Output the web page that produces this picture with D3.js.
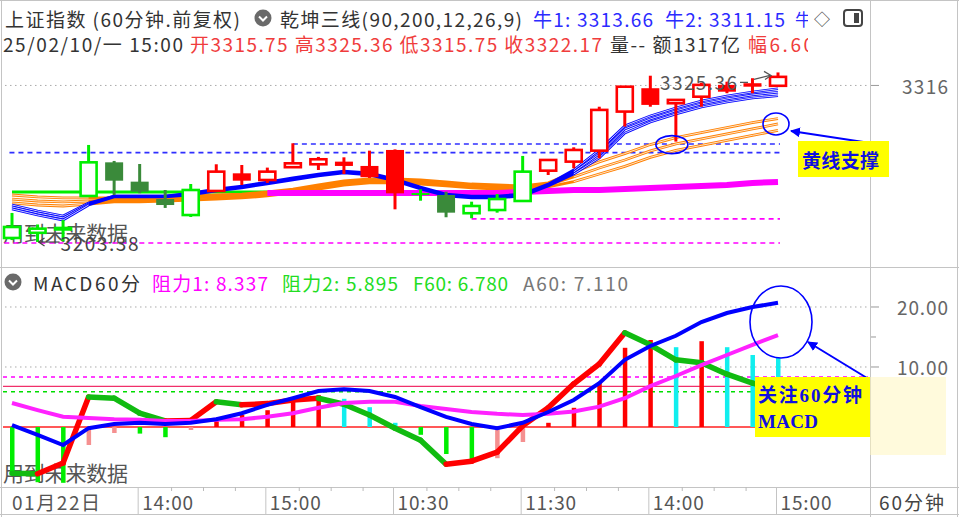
<!DOCTYPE html>
<html>
<head>
<meta charset="utf-8">
<script src="https://cdn.jsdelivr.net/npm/d3@7/dist/d3.min.js"></script>
<style>
  body { margin: 0; background: #fff; }
  svg { display: block; font-family: "Noto Sans CJK SC", "Noto Sans", sans-serif; }
</style>
</head>
<body>
<svg id="chart" width="959" height="517"></svg>
<script>
// 60 minute bars, last one is 25/02/10 15:00
const open  = [3206.3,3210.0,3212.8,3236.5,3260.7,3246.8,3234.3,3222.8,3240.1,3252.8,3248.0,3257.2,3259.3,3261.2,3258.1,3269.6,3238.6,3237.2,3224.1,3226.4,3232.9,3254.7,3261.2,3269.1,3297.2,3314.0,3303.2,3307.9,3316.4,3317.6,3315.75];
const high  = [3224.3,3216.0,3219.2,3273.2,3261.7,3259.5,3240.8,3245.1,3259.3,3258.8,3256.9,3274.4,3264.6,3264.3,3269.1,3270.0,3241.3,3239.6,3232.4,3237.9,3265.3,3263.0,3271.5,3300.7,3315.5,3323.0,3305.6,3318.0,3318.7,3321.2,3325.36];
const low   = [3204.8,3203.38,3204.0,3235.8,3237.2,3238.5,3227.9,3221.4,3240.1,3244.4,3245.9,3257.2,3255.2,3252.3,3249.5,3226.9,3233.1,3221.2,3220.5,3224.5,3232.9,3251.6,3256.4,3263.6,3286.4,3300.7,3275.6,3300.7,3310.4,3310.4,3315.75];
const close = [3214.2,3213.0,3213.5,3260.7,3247.5,3239.6,3230.0,3240.8,3254.0,3247.5,3254.0,3260.0,3262.9,3258.1,3250.0,3238.4,3238.2,3224.5,3229.3,3234.3,3254.0,3262.4,3269.6,3298.4,3315.1,3302.0,3305.6,3316.4,3311.5,3315.1,3322.17];
// trend colour of each bar: g green, d dark green, r red
const trend = "gggg" + "ddd" + "g" + "rrrrrrrr" + "g" + "d" + "ggg" + "rrrrrrrrrr";

// 乾坤三线: three blue (牛) lines, three orange lines, magenta and green base lines
const bull1 = [3230.0,3225.7,3222.1,3231.5,3236.5,3236.5,3236.5,3238.7,3241.5,3243.7,3246.6,3249.5,3252.3,3254.5,3253.1,3248.7,3243.0,3237.9,3236.5,3236.5,3237.9,3245.1,3255.2,3269.6,3286.9,3294.1,3299.8,3304.8,3308.4,3311.3,3313.66];
const bull2 = [3228.6,3224.3,3220.7,3230.7,3236.5,3236.5,3236.5,3237.9,3240.8,3243.0,3245.9,3248.7,3251.6,3253.8,3252.3,3248.0,3242.3,3237.2,3235.8,3235.8,3237.2,3244.4,3253.8,3266.7,3284.7,3291.9,3297.7,3302.7,3306.3,3309.2,3311.15];
const bull3 = [3227.2,3222.8,3219.2,3230.0,3235.8,3235.8,3235.8,3237.2,3240.1,3242.3,3245.1,3248.0,3250.9,3253.1,3251.6,3247.3,3241.5,3236.5,3235.1,3235.1,3236.5,3243.7,3252.3,3263.8,3281.8,3289.7,3295.5,3300.5,3304.1,3307.0,3308.6];
const gold1 = [3237.2,3235.8,3235.1,3235.1,3235.1,3235.1,3235.8,3236.5,3237.2,3237.9,3239.4,3241.5,3244.4,3247.3,3248.7,3248.7,3248.0,3246.6,3245.1,3244.4,3243.7,3245.9,3253.6,3261.0,3267.0,3273.5,3278.5,3282.1,3285.7,3289.3,3292.2];
const gold2 = [3234.3,3232.9,3232.2,3232.9,3233.6,3233.6,3234.3,3235.1,3235.8,3236.5,3237.9,3240.1,3243.0,3245.9,3247.3,3247.3,3246.6,3245.1,3243.7,3243.0,3242.3,3244.4,3250.2,3256.6,3262.4,3268.9,3273.9,3277.5,3281.1,3284.7,3288.3];
const gold3 = [3231.5,3230.0,3229.3,3230.7,3232.2,3232.2,3232.9,3233.6,3234.3,3235.1,3236.5,3238.7,3241.5,3244.4,3245.9,3245.9,3245.1,3243.7,3242.3,3241.5,3240.8,3243.0,3246.8,3252.3,3257.8,3264.3,3269.3,3272.9,3276.5,3280.1,3283.7];
const pinkBase = [null,null,null,null,null,null,null,null,null,null,3238.7,3238.7,3238.7,3238.7,3238.7,3238.7,3238.7,3238.7,3238.7,3238.7,3239.4,3240.1,3240.8,3240.8,3241.5,3242.3,3243.0,3243.7,3244.4,3245.9,3246.6];
const greenBase = [3239.4,3239.4,3239.4,3239.4,3239.4,3239.4,3239.4,3239.4,3239.4,3239.4,3239.4];
const blueLevels = [3273.9, 3267.7];
const pinkLevels = [3220.0, 3202.7];

// MACD60分
const macdBar = [-7.7,-9.2,-9.3,-3.0,-1.0,-1.1,-1.7,-0.5,1.2,2.0,2.8,4.2,5.3,4.7,3.3,0.7,-1.3,-4.5,-5.5,-5.2,-2.5,0.7,3.2,7.5,13.2,14.5,13.3,14.3,13.3,12.0,11.5];
const dif = [0.3,-1.3,-3.0,-0.2,0.5,0.7,0.5,0.7,1.3,2.3,3.7,4.8,6.0,6.3,6.0,5.0,3.3,1.7,0.5,-0.2,0.7,2.5,4.5,7.3,11.2,13.5,15.2,17.5,19.0,20.0,20.7];
const dea = [4.0,2.8,1.7,1.5,1.3,1.2,1.0,1.0,1.2,1.3,1.7,2.3,3.2,4.0,4.2,4.2,3.5,3.0,2.5,2.2,2.0,2.2,2.6,3.4,4.8,6.8,8.5,10.3,12.0,13.7,15.3];
const fast = [-7.7,-7.8,-6.0,5.0,4.8,2.3,1.0,1.1,4.2,3.7,3.9,4.5,4.8,3.8,2.0,-0.2,-2.2,-6.2,-5.7,-4.2,0.2,3.2,7.2,10.5,15.7,13.7,11.2,10.7,8.8,7.3,6.2];
const resist1 = 8.337, resist2 = 5.895, f60 = 6.780, a60 = 7.110;

const axisIdx = [0, 5, 10, 15, 20, 25, 30];
const axisLabels = ["01月22日", "14:00", "15:00", "10:30", "11:30", "14:00", "15:00"];
const priceTicks = [3316];
const macdTicks = [20, 10];

const svg = d3.select("#chart");
const x = d3.scaleLinear().domain([0, 30]).range([12, 778]);
const yP = d3.scaleLinear().domain([3184.7, 3334.3]).range([268, 60]);
const yM = d3.scaleLinear().domain([-9.833, 21.833]).range([486, 296]);
const RED = "#ff0000", GREEN = "#00ee00", DKGREEN = "#3a8a3a";
const candleCol = { g: GREEN, d: DKGREEN, r: RED };

function label(g, px, py, s, color, len, size) {
  const t = g.append("text").attr("x", px).attr("y", py)
    .attr("dominant-baseline", "central")
    .attr("font-size", size || 19).attr("fill", color).text(s);
  if (len) t.attr("textLength", len).attr("lengthAdjust", "spacing");
  return t;
}

// frame lines
const frame = svg.append("g").attr("stroke", "#c4c4c4").attr("stroke-width", 1);
frame.append("line").attr("x1", 0).attr("x2", 959).attr("y1", 0.5).attr("y2", 0.5);
frame.append("line").attr("x1", 1.5).attr("x2", 1.5).attr("y1", 0).attr("y2", 517);
frame.append("line").attr("x1", 870.5).attr("x2", 870.5).attr("y1", 0).attr("y2", 517);
frame.append("line").attr("x1", 957.5).attr("x2", 957.5).attr("y1", 0).attr("y2", 517);
frame.append("line").attr("x1", 0).attr("x2", 959).attr("y1", 267.5).attr("y2", 267.5);
frame.append("line").attr("x1", 0).attr("x2", 959).attr("y1", 487.5).attr("y2", 487.5);
frame.append("line").attr("x1", 0).attr("x2", 959).attr("y1", 514.5).attr("y2", 514.5);

// header
svg.append("clipPath").attr("id", "hdclip").append("rect")
  .attr("x", 0).attr("y", 0).attr("width", 808).attr("height", 60);
const hd = svg.append("g").attr("clip-path", "url(#hdclip)");
label(hd, 5, 18, "上证指数 (60分钟.前复权)", "#333", 235);
label(hd, 280, 18, "乾坤三线(90,200,12,26,9)", "#333", 242);
label(hd, 533, 18, "牛1: " + bull1[30].toFixed(2), "#2b2bff", 120);
label(hd, 665, 18, "牛2: " + bull2[30].toFixed(2), "#2b2bff", 120);
label(hd, 795, 18, "牛", "#2b2bff", null, 17);
label(hd, 3, 43, "25/02/10/一 15:00", "#333", 180);
label(hd, 190, 43, `开${open[30].toFixed(2)} 高${high[30].toFixed(2)} 低${low[30].toFixed(2)} 收${close[30].toFixed(2)}`, "#f03c3c", 412);
label(hd, 610, 43, "量-- 额1317亿", "#333", 130);
label(hd, 748, 43, "幅6.60", "#f03c3c", 66);

function chevronIcon(cx, cy) {
  svg.append("circle").attr("cx", cx).attr("cy", cy).attr("r", 8.5).attr("fill", "#6a6a6a");
  svg.append("path").attr("d", `M${cx - 4},${cy - 1.5}L${cx},${cy + 2.5}L${cx + 4},${cy - 1.5}`)
    .attr("fill", "none").attr("stroke", "#fff").attr("stroke-width", 2);
}
chevronIcon(263, 18);
label(svg, 814, 18, "◇", "#444", null, 16);
svg.append("rect").attr("x", 844).attr("y", 10).attr("width", 18).attr("height", 16).attr("rx", 3)
  .attr("fill", "none").attr("stroke", "#444").attr("stroke-width", 2);
svg.append("rect").attr("x", 854).attr("y", 13).attr("width", 5).attr("height", 10).attr("fill", "#444");

// ---------- main price panel ----------
const main = svg.append("g");
priceTicks.forEach(v => {
  main.append("line").attr("x1", 5).attr("x2", 868).attr("y1", yP(v)).attr("y2", yP(v))
    .attr("stroke", "#aaa").attr("stroke-dasharray", "1.5,3.5");
  main.append("line").attr("x1", 871).attr("x2", 879).attr("y1", yP(v)).attr("y2", yP(v)).attr("stroke", "#999");
  label(main, 948, yP(v), String(v), "#666", 46).attr("text-anchor", "end");
});
label(main, 3, 232, "用到未来数据", "#555", 125, 21);

const lvl = (v, i0, col) => main.append("line")
  .attr("x1", x(i0)).attr("x2", x(30) + 2).attr("y1", yP(v)).attr("y2", yP(v))
  .attr("stroke", col).attr("stroke-width", 1.6).attr("stroke-dasharray", "5,4");
lvl(blueLevels[0], 11, "#2f2fff");
lvl(blueLevels[1], -0.1, "#2f2fff");
lvl(pinkLevels[0], 18, "#ff00ff");
lvl(pinkLevels[1], -0.3, "#ff00ff");

const lineP = d3.line().defined(d => d != null).x((d, i) => x(i)).y(d => yP(d));
const fan = d3.line().defined((d, i) => i <= 3 || i >= 22).x((d, i) => x(i)).y(d => yP(d));

main.append("path").attr("d", lineP(greenBase)).attr("fill", "none").attr("stroke", GREEN).attr("stroke-width", 3);
[gold1, gold2, gold3].forEach(s => {
  main.append("path").attr("d", lineP(s)).attr("fill", "none").attr("stroke", "#ff8000").attr("stroke-width", 2.8);
  main.append("path").attr("d", fan(s)).attr("fill", "none").attr("stroke", "#fff").attr("stroke-width", 0.8);
});
main.append("path").attr("d", lineP(pinkBase)).attr("fill", "none").attr("stroke", "#ff00ff").attr("stroke-width", 6);
[bull1, bull2, bull3].forEach(s => {
  main.append("path").attr("d", lineP(s)).attr("fill", "none").attr("stroke", "#0000ff").attr("stroke-width", 2.6);
  main.append("path").attr("d", fan(s)).attr("fill", "none").attr("stroke", "#fff").attr("stroke-width", 0.8);
});

// candles
const cg = main.append("g");
d3.range(open.length).forEach(i => {
  const cx = x(i), col = candleCol[trend[i]];
  const up = close[i] > open[i];
  const top = yP(Math.max(open[i], close[i])), bot = yP(Math.min(open[i], close[i]));
  cg.append("line").attr("x1", cx).attr("x2", cx).attr("y1", yP(high[i])).attr("y2", yP(low[i]))
    .attr("stroke", col).attr("stroke-width", 3);
  if (up) {
    cg.append("rect").attr("x", cx - 8).attr("y", top).attr("width", 16).attr("height", Math.max(bot - top, 1.5))
      .attr("fill", "#fff").attr("stroke", col).attr("stroke-width", 2.6);
  } else {
    cg.append("rect").attr("x", cx - 9).attr("y", top).attr("width", 18).attr("height", Math.max(bot - top, 2))
      .attr("fill", col);
  }
});

// high / low marks
const iLow = d3.minIndex(low), iHigh = d3.maxIndex(high);
const lowY = yP(low[iLow]);
main.append("line").attr("x1", x(iLow) + 1).attr("x2", x(iLow) + 22).attr("y1", lowY).attr("y2", lowY)
  .attr("stroke", "#444").attr("stroke-width", 1.2);
main.append("path").attr("d", `M${x(iLow) + 1},${lowY}l6,-4M${x(iLow) + 1},${lowY}l6,4`)
  .attr("stroke", "#444").attr("stroke-width", 1.2).attr("fill", "none");
label(main, x(iLow) + 23, lowY, low[iLow].toFixed(2), "#444", 78);
const hiY = yP(high[iHigh]);
label(main, x(iHigh) - 118, hiY + 9, high[iHigh].toFixed(2), "#555", 77);
main.append("path").attr("d", `M${x(iHigh) - 38},${hiY + 10}L${x(iHigh) - 30},${hiY + 10}M${x(iHigh) - 24},${hiY + 7}L${x(iHigh) - 8},${hiY + 3}`)
  .attr("stroke", "#555").attr("stroke-width", 1.3).attr("fill", "none");
main.append("path").attr("d", `M${x(iHigh) - 14},${hiY - 1}L${x(iHigh) - 7},${hiY + 3}L${x(iHigh) - 13},${hiY + 7}`)
  .attr("stroke", "#555").attr("stroke-width", 1.3).attr("fill", "none");

// ---------- MACD panel ----------
const mp = svg.append("g");
chevronIcon(13, 282);
label(mp, 33, 282, "MACD60分", "#333", 107);
label(mp, 152, 282, "阻力1: " + resist1.toFixed(3), "#ff00ff", 116);
label(mp, 282, 282, "阻力2: " + resist2.toFixed(3), "#22dd22", 116);
label(mp, 413, 282, "F60: " + f60.toFixed(3), "#22dd22", 95);
label(mp, 523, 282, "A60: " + a60.toFixed(3), "#777", 105);

macdTicks.forEach(v => {
  mp.append("line").attr("x1", 5).attr("x2", 868).attr("y1", yM(v)).attr("y2", yM(v))
    .attr("stroke", "#aaa").attr("stroke-dasharray", "1.5,3.5");
  mp.append("line").attr("x1", 871).attr("x2", 879).attr("y1", yM(v)).attr("y2", yM(v)).attr("stroke", "#999");
  label(mp, 948, yM(v), v.toFixed(2), "#666", 51).attr("text-anchor", "end");
});
mp.append("line").attr("x1", 871).attr("x2", 876).attr("y1", yM(15)).attr("y2", yM(15)).attr("stroke", "#999");
label(mp, 3, 472, "用到未来数据", "#555", 125, 21);

mp.append("line").attr("x1", 3).attr("x2", 868).attr("y1", yM(resist1)).attr("y2", yM(resist1))
  .attr("stroke", "#ff00ff").attr("stroke-width", 1.5).attr("stroke-dasharray", "4,4");
mp.append("line").attr("x1", 3).attr("x2", 868).attr("y1", yM(resist2)).attr("y2", yM(resist2))
  .attr("stroke", "#00dd00").attr("stroke-width", 1.5).attr("stroke-dasharray", "4,4");
mp.append("line").attr("x1", 3).attr("x2", 868).attr("y1", yM(f60)).attr("y2", yM(f60))
  .attr("stroke", "#f0306a").attr("stroke-width", 1.3);
mp.append("line").attr("x1", 3).attr("x2", 868).attr("y1", yM(0)).attr("y2", yM(0))
  .attr("stroke", "#ff2020").attr("stroke-width", 1.3);

macdBar.forEach((v, i) => {
  const prev = i > 0 ? macdBar[i - 1] : 0;
  let col;
  if (v >= 0) col = (prev < 0 || v >= prev) ? RED : "#11eeee";
  else col = (prev >= 0 || v <= prev) ? GREEN : "#f59090";
  mp.append("rect").attr("x", x(i) - 2).attr("width", 4.5)
    .attr("y", Math.min(yM(v), yM(0))).attr("height", Math.abs(yM(v) - yM(0)))
    .attr("fill", col);
});

fast.forEach((v, i) => {
  if (i === 0) return;
  mp.append("line").attr("x1", x(i - 1)).attr("x2", x(i)).attr("y1", yM(fast[i - 1])).attr("y2", yM(v))
    .attr("stroke", v >= fast[i - 1] ? RED : "#11bb11").attr("stroke-width", 5.5).attr("stroke-linecap", "round");
});
const lineM = d3.line().x((d, i) => x(i)).y(d => yM(d));
mp.append("path").attr("d", lineM(dea)).attr("fill", "none").attr("stroke", "#ff22ff").attr("stroke-width", 4);
mp.append("path").attr("d", lineM(dif)).attr("fill", "none").attr("stroke", "#0000ff").attr("stroke-width", 4);

// ---------- time axis ----------
const ax = svg.append("g");
axisIdx.forEach((k, j) => {
  if (k > 0) {
    ax.append("line").attr("x1", x(k) - 1.5).attr("x2", x(k) - 1.5).attr("y1", 487).attr("y2", 514).attr("stroke", "#c4c4c4");
    [1, 2, 3].forEach(m => {
      const tx = x(k + m * 1.25);
      if (k < 30) ax.append("line").attr("x1", tx).attr("x2", tx).attr("y1", 487).attr("y2", 491).attr("stroke", "#bbb");
    });
  }
  label(ax, k === 0 ? 12 : x(k) + 2.5, 501, axisLabels[j], "#555", k === 0 ? 88 : 51);
});
label(ax, 879, 501, "60分钟", "#444", 65);

// ---------- annotations ----------
const ann = svg.append("g");
ann.append("defs").append("marker").attr("id", "arr").attr("viewBox", "0 0 10 10")
  .attr("refX", 9).attr("refY", 5).attr("markerWidth", 5).attr("markerHeight", 5).attr("orient", "auto")
  .append("path").attr("d", "M0,0L10,5L0,10z").attr("fill", "#0000ff");
ann.append("ellipse").attr("cx", x(30) - 2).attr("cy", yP(gold2[30])).attr("rx", 13).attr("ry", 11)
  .attr("fill", "none").attr("stroke", "#0000ff").attr("stroke-width", 1.6);
ann.append("ellipse").attr("cx", x(26) - 4).attr("cy", yP(low[26]) + 3).attr("rx", 16).attr("ry", 9)
  .attr("fill", "none").attr("stroke", "#0000ff").attr("stroke-width", 1.6);
ann.append("ellipse").attr("cx", x(30) + 3).attr("cy", (yM(dif[30]) + yM(dea[30])) / 2 + 3).attr("rx", 31).attr("ry", 36)
  .attr("fill", "none").attr("stroke", "#0000ff").attr("stroke-width", 1.6);

ann.append("line").attr("x1", 870).attr("y1", 143).attr("x2", 791).attr("y2", 131)
  .attr("stroke", "#0000ff").attr("stroke-width", 2).attr("marker-end", "url(#arr)");
ann.append("rect").attr("x", 798).attr("y", 141).attr("width", 91).attr("height", 36).attr("fill", "#ffff00");
ann.append("text").attr("x", 802).attr("y", 159).attr("dominant-baseline", "central")
  .attr("font-size", 19).attr("font-weight", "bold").attr("fill", "#1010e0")
  .attr("textLength", 77).attr("lengthAdjust", "spacing").text("黄线支撑");

ann.append("rect").attr("x", 870).attr("y", 377).attr("width", 76).attr("height", 78).attr("fill", "#fff6c0").attr("opacity", 0.55);
ann.append("line").attr("x1", 867).attr("y1", 378).attr("x2", 808).attr("y2", 342)
  .attr("stroke", "#0000ff").attr("stroke-width", 2).attr("marker-end", "url(#arr)");
ann.append("rect").attr("x", 755).attr("y", 377).attr("width", 115).attr("height", 60).attr("fill", "#ffff00");
ann.append("text").attr("x", 758).attr("y", 395).attr("dominant-baseline", "central")
  .attr("font-family", '"Liberation Serif","Noto Sans CJK SC",serif')
  .attr("font-size", 19).attr("font-weight", "bold").attr("fill", "#1010e0")
  .attr("textLength", 104).attr("lengthAdjust", "spacing").text("关注60分钟");
ann.append("text").attr("x", 758).attr("y", 421).attr("dominant-baseline", "central")
  .attr("font-family", '"Liberation Serif",serif')
  .attr("font-size", 19).attr("font-weight", "bold").attr("fill", "#1010e0")
  .attr("textLength", 60).attr("lengthAdjust", "spacing").text("MACD");
</script>
</body>
</html>
